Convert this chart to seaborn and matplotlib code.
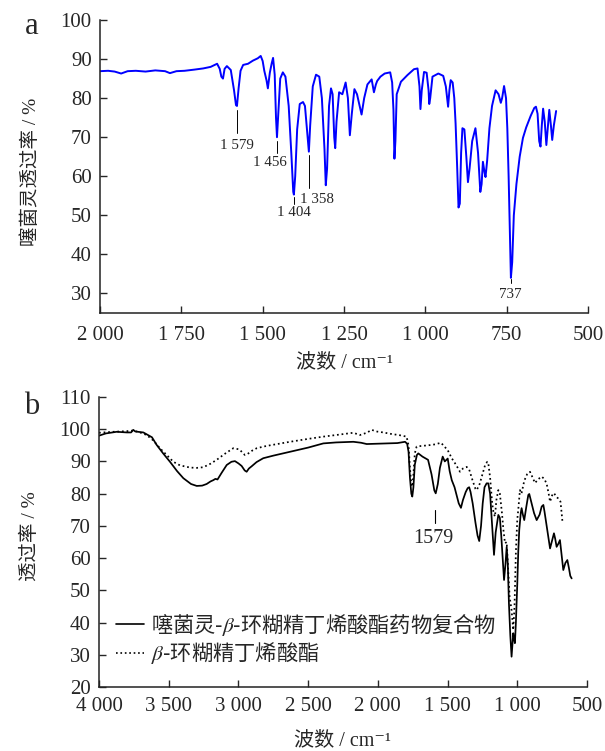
import matplotlib
matplotlib.use("Agg")
import matplotlib.pyplot as plt
import seaborn as sns
from matplotlib.lines import Line2D

# ---- données ----
# (a) spectre IR du thiabendazole
wn_a = [2000, 1975, 1955, 1935, 1915, 1890, 1860, 1830, 1800, 1785, 1765, 1740, 1710, 1683, 1660,
        1640, 1632, 1627, 1622, 1617, 1610, 1598, 1588, 1582, 1579, 1574, 1568, 1560, 1545, 1530,
        1515, 1506, 1500, 1495, 1488, 1484, 1478, 1472, 1468, 1463, 1459, 1456, 1452, 1446, 1438,
        1430, 1420, 1412, 1406, 1404, 1400, 1394, 1386, 1376, 1370, 1362, 1358, 1354, 1346, 1336,
        1326, 1318, 1310, 1306, 1302, 1296, 1290, 1285, 1280, 1277, 1273, 1265, 1255, 1245, 1238,
        1232, 1226, 1218, 1210, 1202, 1196, 1188, 1178, 1165, 1158, 1152, 1148, 1138, 1125, 1108,
        1102, 1098, 1095, 1092, 1088, 1075, 1055, 1035, 1024, 1018, 1015, 1011, 1004, 996, 990,
        988, 985, 978, 960, 945, 937, 930, 926, 922, 916, 911, 907, 902, 898, 894,
        890, 886, 880, 874, 869, 864, 856, 846, 838, 831, 827, 823, 818, 815, 810,
        803, 795, 784, 775, 768, 764, 758, 752, 748, 744, 740, 737, 733, 728, 720,
        710, 700, 690, 676, 665, 660, 655, 650, 646, 642, 638, 633, 628, 624, 619,
        614, 610, 605, 598]
t_a = [86.9, 87.0, 86.8, 86.3, 86.9, 87.0, 86.8, 87.1, 86.9, 86.4, 86.9, 87.0, 87.3, 87.6, 88.0,
       88.8, 87.5, 85.5, 85.0, 87.5, 88.2, 87.2, 82.0, 78.2, 78.0, 82.5, 87.0, 88.5, 88.8, 89.6,
       90.2, 90.8, 89.5, 87.0, 84.5, 82.5, 86.5, 89.0, 90.3, 86.0, 75.0, 70.0, 76.0, 85.0, 86.6,
       85.5, 78.0, 66.0, 56.0, 55.3, 60.0, 72.0, 78.5, 79.0, 78.0, 70.0, 66.3, 73.0, 83.0, 86.0,
       85.5, 80.0, 67.0, 57.7, 62.0, 78.0, 82.5, 81.0, 70.0, 67.2, 74.0, 81.5, 81.0, 84.0, 80.0,
       70.5, 76.0, 82.3, 81.0, 78.0, 75.8, 80.0, 83.5, 84.8, 81.5, 83.5, 84.4, 85.5, 86.3, 86.6,
       84.0, 77.0, 64.5, 69.0, 81.0, 84.2, 85.9, 87.4, 87.6, 83.0, 77.2, 82.0, 86.7, 86.5, 82.0,
       78.5, 80.0, 85.5, 86.3, 85.7, 83.0, 77.8, 82.0, 84.6, 84.0, 80.0, 73.5, 62.0, 52.0, 53.0,
       66.0, 72.3, 72.0, 65.0, 58.5, 62.0, 69.0, 72.3, 66.0, 56.0, 58.0, 63.7, 61.0, 59.8, 64.0,
       72.3, 78.0, 82.0, 81.0, 78.8, 80.0, 83.1, 80.0, 72.3, 60.0, 45.0, 34.0, 38.0, 50.0, 58.0,
       65.0, 69.8, 72.5, 75.5, 77.5, 77.8, 76.0, 69.0, 67.6, 73.0, 77.3, 74.0, 68.0, 72.0, 77.0,
       73.0, 69.3, 73.0, 76.7]

# (b) complexe médicament (trait plein)
wn_b1 = [4000, 3950, 3873, 3800, 3770, 3754, 3740, 3682, 3620, 3586, 3540, 3491, 3440, 3395, 3340,
         3299, 3260, 3228, 3200, 3180, 3165, 3150, 3120, 3084, 3050, 3025, 3000, 2977, 2955, 2941,
         2925, 2905, 2870, 2822, 2750, 2630, 2500, 2391, 2300, 2176, 2120, 2080, 2000, 1913, 1860,
         1805, 1790, 1780, 1770, 1760, 1753, 1745, 1735, 1720, 1710, 1680, 1640, 1615, 1595, 1585,
         1570, 1555, 1535, 1520, 1513, 1499, 1485, 1470, 1450, 1420, 1404, 1390, 1370, 1356, 1345,
         1335, 1320, 1300, 1285, 1273, 1260, 1248, 1235, 1220, 1208, 1195, 1180, 1167, 1155, 1136,
         1125, 1115, 1100, 1095, 1085, 1076, 1068, 1060, 1050, 1041, 1035, 1029, 1023, 1017, 1010,
         1000, 993, 986, 975, 969, 960, 950, 935, 921, 914, 900, 880, 861, 840, 825,
         813, 805, 794, 780, 765, 750, 737, 728, 718, 705, 694, 682, 670, 655, 641,
         630, 620, 610]
t_b1 = [98.0, 98.7, 99.2, 99.0, 99.0, 99.8, 99.3, 99.0, 97.5, 95.1, 92.5, 89.9, 87.0, 84.8, 83.0,
        82.4, 82.5, 83.0, 83.8, 84.2, 84.6, 84.4, 86.5, 88.9, 89.9, 90.1, 89.4, 88.6, 87.2, 86.8,
        87.8, 88.5, 89.8, 91.0, 91.8, 93.0, 94.3, 95.6, 95.9, 96.1, 95.8, 95.4, 95.5, 95.6, 95.7,
        96.1, 95.5, 93.0, 85.0, 80.0, 79.1, 82.0, 89.0, 92.0, 92.5, 91.5, 90.5, 86.0, 81.0, 80.1,
        83.0, 88.0, 91.5, 90.0, 90.3, 90.9, 87.0, 84.2, 82.0, 77.0, 75.6, 78.0, 80.5, 81.7, 82.0,
        80.5, 77.0, 71.0, 67.0, 65.3, 70.0, 77.0, 82.0, 83.2, 83.2, 80.0, 70.0, 61.0, 68.0, 73.4,
        72.5, 67.0, 57.0, 53.2, 58.0, 63.5, 58.0, 46.0, 36.0, 29.4, 33.0, 36.7, 35.0, 33.6, 40.0,
        52.0, 62.0, 68.7, 74.0, 75.5, 73.5, 71.8, 76.0, 79.6, 79.9, 77.5, 74.0, 71.8, 73.5, 76.0,
        76.5, 74.5, 71.3, 67.0, 63.0, 65.5, 67.7, 66.0, 63.5, 64.5, 65.6, 61.0, 56.3, 58.5, 59.4,
        57.0, 54.5, 53.7]

# (b) beta-cyclodextrine butenoate (pointillés)
wn_b2 = [4000, 3900, 3800, 3754, 3700, 3658, 3610, 3563, 3510, 3467, 3420, 3347, 3300, 3252, 3200,
         3156, 3100, 3037, 3000, 2989, 2965, 2953, 2935, 2900, 2869, 2800, 2630, 2500, 2391, 2300,
         2176, 2128, 2080, 2044, 2010, 1961, 1900, 1850, 1794, 1780, 1770, 1760, 1753, 1745, 1735,
         1722, 1690, 1640, 1590, 1547, 1520, 1499, 1470, 1440, 1411, 1390, 1363, 1345, 1320, 1300,
         1291, 1270, 1250, 1230, 1215, 1208, 1195, 1180, 1170, 1160, 1150, 1136, 1125, 1110, 1100,
         1088, 1076, 1065, 1055, 1041, 1029, 1020, 1010, 1000, 993, 981, 970, 950, 930, 909,
         890, 873, 850, 825, 805, 789, 775, 765, 750, 737, 720, 706, 690, 682, 675]
t_b2 = [98.9, 99.2, 99.4, 99.6, 98.9, 98.2, 96.5, 94.1, 91.8, 89.9, 88.8, 88.1, 88.0, 88.2, 89.3,
        90.5, 92.3, 94.1, 93.8, 93.6, 92.4, 92.0, 92.3, 93.4, 94.1, 94.8, 96.1, 97.0, 97.7, 98.2,
        98.9, 98.2, 98.9, 99.8, 99.3, 99.0, 98.5, 98.2, 97.7, 95.0, 88.0, 83.0, 82.2, 86.0, 92.5,
        94.6, 94.8, 95.0, 95.3, 95.8, 94.5, 93.5, 91.0, 89.0, 86.8, 87.8, 88.3, 87.5, 84.0, 81.5,
        81.1, 83.0, 86.0, 89.0, 89.9, 89.5, 85.0, 77.0, 74.0, 72.9, 78.0, 81.1, 80.0, 74.0, 69.0,
        64.6, 65.0, 56.0, 48.0, 43.9, 37.7, 45.0, 62.0, 72.0, 75.0, 81.1, 80.0, 84.0, 86.0, 86.8,
        85.0, 83.3, 84.5, 85.3, 84.5, 83.0, 80.0, 77.5, 79.5, 80.2, 79.0, 78.5, 77.5, 74.0, 70.8]

# annotations (a) : nombre d'onde, haut / bas du trait, position du texte
pics_a = ["1 579", "1 456", "1 404", "1 358", "737"]
pics_a_x = [1579, 1456, 1404, 1358, 737]
pics_a_y1 = [77.0, 69.0, 54.8, 65.5, 33.8]
pics_a_y2 = [71.0, 66.0, 53.0, 57.0, 32.6]
pics_a_tx = [1579, 1478, 1405, 1333, 740]
pics_a_ty = [67.8, 63.4, 50.6, 54.0, 29.8]

xt_a = [2000, 1750, 1500, 1250, 1000, 750, 500]
xt_a_lab = ["2 000", "1 750", "1 500", "1 250", "1 000", "750", "500"]
yt_a = [30, 40, 50, 60, 70, 80, 90, 100]
xt_b = [4000, 3500, 3000, 2500, 2000, 1500, 1000, 500]
xt_b_lab = ["4 000", "3 500", "3 000", "2 500", "2 000", "1 500", "1 000", "500"]
yt_b = [20, 30, 40, 50, 60, 70, 80, 90, 100, 110]

lab_1 = "噻菌灵-$\\beta$-环糊精丁烯酸酯药物复合物"
lab_2 = "$\\beta$-环糊精丁烯酸酯"

sns.set_style("ticks")
plt.rcParams["font.family"] = ["Liberation Serif", "Noto Sans CJK SC", "DejaVu Sans"]
plt.rcParams["mathtext.fontset"] = "stix"
plt.rcParams["axes.linewidth"] = 1.1
plt.rcParams["axes.edgecolor"] = "#222222"

fig = plt.figure(figsize=(6.05, 7.51), dpi=100)
ax1 = fig.add_axes([100 / 605, 1 - 313 / 751, 488 / 605, 293 / 751])
ax2 = fig.add_axes([99 / 605, 1 - 687 / 751, 488 / 605, 290 / 751])

# --- a ---
sns.lineplot(x=wn_a, y=t_a, ax=ax1, color="#0000ff", lw=1.4, sort=False, estimator=None)
for lab, x, y1, y2, tx, ty in zip(pics_a, pics_a_x, pics_a_y1, pics_a_y2, pics_a_tx, pics_a_ty):
    ax1.plot([x, x], [y1, y2], color="black", lw=0.7)
    ax1.text(tx, ty, lab, ha="center", va="center", fontsize=10.8)
ax1.set_xlim(2000, 500)
ax1.set_ylim(25, 100)
ax1.set_xticks(xt_a, xt_a_lab)
ax1.set_yticks(yt_a)
ax1.set_xlabel("波数 / cm⁻¹", fontsize=14.5)
ax1.set_ylabel("噻菌灵透过率 / %", fontsize=14)
ax1.xaxis.set_label_coords(0.5, -0.17)
ax1.xaxis.label.set_va("center")
ax1.yaxis.set_label_coords(-0.143, 0.48)
ax1.yaxis.label.set_va("center")
ax1.tick_params(direction="in", length=5, width=1, labelsize=15)
ax1.tick_params(axis="x", pad=9)
ax1.tick_params(axis="y", pad=6)

# --- b ---
sns.lineplot(x=wn_b1, y=t_b1, ax=ax2, color="black", lw=1.25, sort=False, estimator=None)
sns.lineplot(x=wn_b2, y=t_b2, ax=ax2, color="black", lw=1.25, ls=":", sort=False, estimator=None)
ax2.plot([1590, 1590], [74.8, 70.9], color="black", lw=0.8)
ax2.text(1600, 66.2, "1579", ha="center", va="center", fontsize=14.5)
ax2.set_xlim(4000, 500)
ax2.set_ylim(20, 110)
ax2.set_xticks(xt_b, xt_b_lab)
ax2.set_yticks(yt_b)
ax2.set_xlabel("波数 / cm⁻¹", fontsize=14.5)
ax2.set_ylabel("透过率 / %", fontsize=14)
ax2.xaxis.set_label_coords(0.5, -0.185)
ax2.xaxis.label.set_va("center")
ax2.yaxis.set_label_coords(-0.141, 0.52)
ax2.yaxis.label.set_va("center")
ax2.tick_params(direction="in", length=5, width=1, labelsize=15)
ax2.tick_params(axis="x", pad=7)
ax2.tick_params(axis="y", pad=6)

handles = [Line2D([], [], color="black", lw=1.2),
           Line2D([], [], color="black", lw=1.2, ls=":")]
ax2.legend(handles, [lab_1, lab_2], loc="lower left", bbox_to_anchor=(0.035, 0.072),
           frameon=False, prop={"family": "Noto Sans CJK SC", "size": 15.3},
           handlelength=1.3, handletextpad=0.32, labelspacing=0.12,
           borderpad=0, borderaxespad=0)

for ax in (ax1, ax2):
    sns.despine(ax=ax)

fig.text(32 / 605, 1 - 26 / 751, "a", fontsize=22, ha="center", va="center")
fig.text(32 / 605, 1 - 406 / 751, "b", fontsize=22, ha="center", va="center")

fig.savefig("out.png", dpi=100)
